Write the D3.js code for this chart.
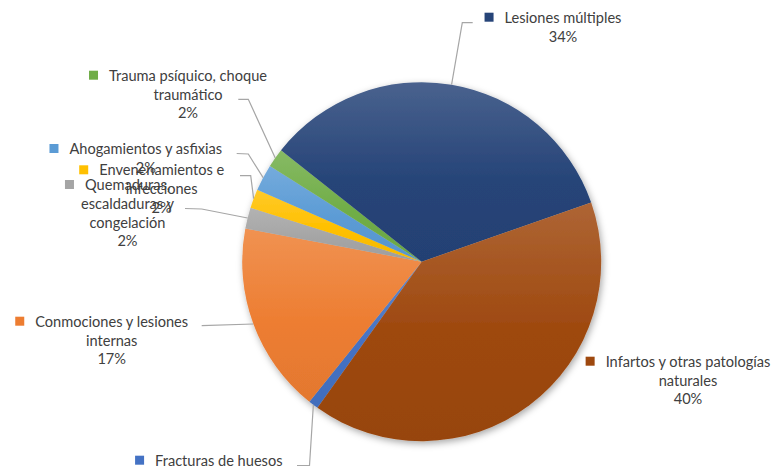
<!DOCTYPE html>
<html><head><meta charset="utf-8">
<script src="https://cdn.jsdelivr.net/npm/d3@7"></script>
<style>html,body{margin:0;padding:0;background:#fff;}svg{display:block;}</style>
</head><body>
<svg id="chart" width="774" height="468"></svg>
<script>
// ---- data ----
const categories = ["Fracturas de huesos","Conmociones y lesiones internas","Quemaduras, escaldaduras y congelación","Envenenamientos e infecciones","Ahogamientos y asfixias","Trauma psíquico, choque traumático","Lesiones múltiples","Infartos y otras patologías naturales"];
const values = [0.9, 17.2, 1.9, 1.7, 2.4, 1.7, 34.0, 40.2];
// ---- style / layout ----
const colors = ["#4472C4","#ED7D31","#A5A5A5","#FFC000","#5B9BD5","#70AD47","#264478","#9E480E"];
const lineWords = [[3,1],[3,2],[1,2,1],[2,1],[3],[3,1],[2],[4,1]]; // words per wrapped line
const labelCx = [218.8,111.7,127.5,161.7,145.8,188,563,688];
const labelY  = [465.7,326.7,190,175.3,154,80.7,22.7,366.7];
const leaderEnd   = [[297,465.5],[201.7,325.7],[185,208.5],[240,175.7],[236.7,153.5],[238.3,99.3],[472.7,22.7],null];
const leaderElbow = [[309.5,465.5],null,[201.7,209],[250.7,175.7],[248.3,154],[248.3,99.3],[462.3,22.7],null];

const W = 774, H = 468;
const cx = 421.7, cy = 261.7, R = 179.5;
const startDeg = 215.5;
const lineH = 18.8;
const textColor = "#404040";

const svg = d3.select("#chart");
const defs = svg.append("defs");
const f = defs.append("filter").attr("id","shadow").attr("x","-20%").attr("y","-20%").attr("width","140%").attr("height","140%");
f.append("feDropShadow").attr("dx",1.5).attr("dy",2.5).attr("stdDeviation",3.5).attr("flood-color","#000").attr("flood-opacity",0.35);

colors.forEach((c,i)=>{
  const g = defs.append("linearGradient").attr("id","grad"+i).attr("x1",0).attr("y1",0).attr("x2",0).attr("y2",1);
  g.append("stop").attr("offset","0%").attr("stop-color", d3.interpolateRgb(c,"#ffffff")(0.16));
  g.append("stop").attr("offset","55%").attr("stop-color", c);
  g.append("stop").attr("offset","100%").attr("stop-color", d3.color(c).darker(0.12).formatHex());
});

const toRad = d => d*Math.PI/180;
const pie = d3.pie().sort(null).value(d=>d)
  .startAngle(toRad(startDeg)).endAngle(toRad(startDeg+360));
const arcs = pie(values);
const arc = d3.arc().innerRadius(0).outerRadius(R);

const gPie = svg.append("g").attr("transform",`translate(${cx},${cy})`);
const gShadow = gPie.append("g").attr("filter","url(#shadow)");
gShadow.selectAll("path").data(arcs).join("path")
  .attr("d",arc)
  .attr("fill",(d,i)=>`url(#grad${i})`);

// leader lines
const gLines = svg.append("g");
arcs.forEach((a,i)=>{
  if(!leaderEnd[i]) return;
  const mid = (a.startAngle+a.endAngle)/2;
  const pts = [[cx + R*Math.sin(mid), cy - R*Math.cos(mid)]];
  if(leaderElbow[i]) pts.push(leaderElbow[i]);
  pts.push(leaderEnd[i]);
  gLines.append("path").attr("d", d3.line()(pts))
    .attr("fill","none").attr("stroke","#A6A6A6").attr("stroke-width",1.2);
});

// labels
const gLab = svg.append("g").attr("font-family","Lato, 'Open Sans', sans-serif").attr("font-size","14.6px").attr("fill",textColor);
categories.forEach((cat,i)=>{
  const words = cat.split(" ");
  const lines = [];
  let k = 0;
  lineWords[i].forEach(n=>{ lines.push(words.slice(k,k+n).join(" ")); k+=n; });
  lines.push(Math.round(values[i]) + "%");
  const g = gLab.append("g");
  lines.forEach((ln,j)=>{
    g.append("text").attr("x",labelCx[i]).attr("y",labelY[i]+j*lineH)
      .attr("text-anchor","middle").text(ln);
  });
  const w = g.select("text").node().getComputedTextLength();
  g.append("rect").attr("x",labelCx[i]-w/2-20).attr("y",labelY[i]-10)
    .attr("width",9).attr("height",9).attr("fill",colors[i]);
});
</script>
</body></html>
